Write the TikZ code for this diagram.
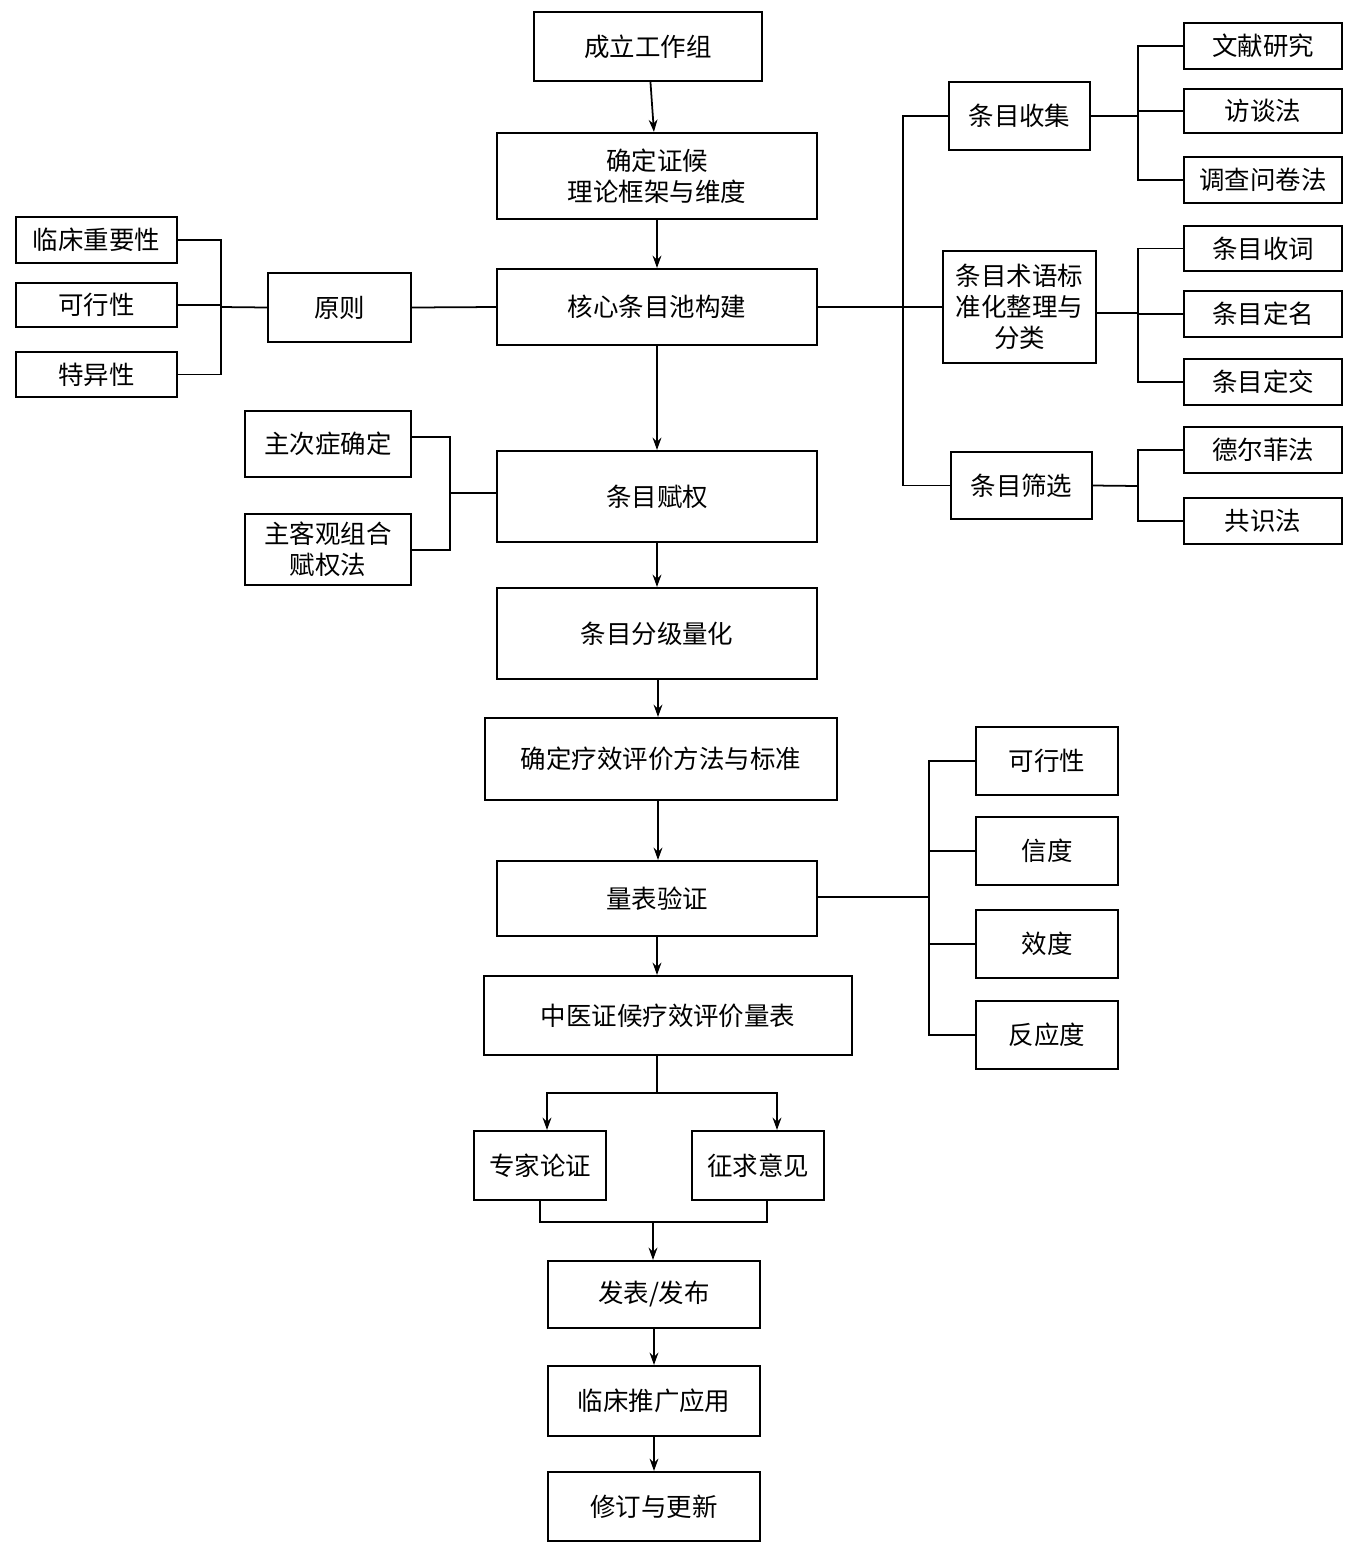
\documentclass[tikz,border=0pt]{standalone}
\usepackage{fontspec}
\setmainfont{Noto Sans CJK SC}
\usetikzlibrary{arrows.meta}
\newcommand\B[6]{\node[box,minimum width={(#4-#2)*0.02cm},minimum height={(#5-#3)*0.02cm}] (#1) at ({(#2+#4)/2},{(#3+#5)/2}) {#6};}
\begin{document}
\begin{tikzpicture}[x=0.02cm,y=-0.02cm,
 box/.style={draw,line width=1.2pt,inner sep=0pt,align=center,font=\fontsize{14.5}{17.5}\selectfont},
 ln/.style={line width=1pt},
 ar/.style={line width=1pt,-{Stealth[length=7pt,width=5pt]}}]
\useasboundingbox (0,0) rectangle (1358,1553);
\B{a}{534}{12}{762}{81}{成立工作组}
\B{b}{497}{133}{817}{219}{确定证候\\理论框架与维度}
\B{c}{497}{269}{817}{345}{核心条目池构建}
\B{yz}{268}{273}{411}{342}{原则}
\B{y1}{16}{217}{177}{263}{临床重要性}
\B{y2}{16}{283}{177}{327}{可行性}
\B{y3}{16}{352}{177}{397}{特异性}
\B{d}{497}{451}{817}{542}{条目赋权}
\B{d1}{245}{411}{411}{477}{主次症确定}
\B{d2}{245}{514}{411}{585}{主客观组合\\赋权法}
\B{e}{497}{588}{817}{679}{条目分级量化}
\B{f}{485}{718}{837}{800}{确定疗效评价方法与标准}
\B{g}{497}{861}{817}{936}{量表验证}
\B{h}{484}{976}{852}{1055}{中医证候疗效评价量表}
\B{i1}{474}{1131}{606}{1200}{专家论证}
\B{i2}{692}{1131}{824}{1200}{征求意见}
\B{j}{548}{1261}{760}{1328}{发表/发布}
\B{k}{548}{1366}{760}{1436}{临床推广应用}
\B{l}{548}{1472}{760}{1541}{修订与更新}
\B{r1}{949}{82}{1090}{150}{条目收集}
\B{r2}{943}{251}{1096}{363}{条目术语标\\准化整理与\\分类}
\B{r3}{951}{452}{1092}{519}{条目筛选}
\B{s1}{1184}{23}{1342}{69}{文献研究}
\B{s2}{1184}{89}{1342}{133}{访谈法}
\B{s3}{1184}{157}{1342}{203}{调查问卷法}
\B{s4}{1184}{226}{1342}{271}{条目收词}
\B{s5}{1184}{291}{1342}{337}{条目定名}
\B{s6}{1184}{359}{1342}{405}{条目定交}
\B{s7}{1184}{427}{1342}{473}{德尔菲法}
\B{s8}{1184}{498}{1342}{544}{共识法}
\B{v1}{976}{727}{1118}{795}{可行性}
\B{v2}{976}{817}{1118}{885}{信度}
\B{v3}{976}{910}{1118}{978}{效度}
\B{v4}{976}{1001}{1118}{1069}{反应度}
% main arrows
\draw[ar] (a) -- (b);
\draw[ar] (b) -- (c);
\draw[ar] (c) -- (d);
\draw[ar] (d) -- (e);
\draw[ar] (e.south -| 658,0) -- (f.north -| 658,0);
\draw[ar] (f.south -| 658,0) -- (g.north -| 658,0);
\draw[ar] (g.south -| 657,0) -- (h.north -| 657,0);
\coordinate (hs) at (657,1093);
\draw[ln] (h.south -| hs) -- (hs);
\draw[ar] (hs) -| (i1.north -| 547,0);
\draw[ar] (hs) -| (i2.north -| 777,0);
\coordinate (jm) at (653,1222);
\draw[ln] (i1.south -| 540,0) |- (jm);
\draw[ln] (i2.south -| 767,0) |- (jm);
\draw[ar] (jm) -- (j.north -| jm);
\draw[ar] (j) -- (k);
\draw[ar] (k) -- (l);
% left
\coordinate (yb) at (221,307);
\draw[ln] (y1.east) -| (yb); \draw[ln] (y3.east) -| (yb); \draw[ln] (y2.east) -- (y2.east -| yb);
\draw[ln] (yb) -- (yz.west);
\draw[ln] (yz.east) -- (c.west);
\coordinate (db) at (450,493);
\draw[ln] (d1.east |- 0,437) -| (db); \draw[ln] (d2.east |- 0,550) -| (db);
\draw[ln] (db) -- (d.west |- db);
% right
\coordinate (cb) at (903,307);
\draw[ln] (c.east) -- (r2.west);
\draw[ln] (r1.west) -| (cb); \draw[ln] (r3.west) -| (cb);
\coordinate (t1) at (1138,116);
\draw[ln] (r1.east) -- (t1);
\draw[ln] (s1.west) -| (t1); \draw[ln] (s3.west) -| (t1); \draw[ln] (s2.west) -- (s2.west -| t1);
\coordinate (t2) at (1138,313);
\draw[ln] (r2.east |- t2) -- (t2);
\draw[ln] (s4.west) -| (t2); \draw[ln] (s6.west) -| (t2); \draw[ln] (s5.west) -- (s5.west -| t2);
\coordinate (t3) at (1138,486);
\draw[ln] (r3.east) -- (t3);
\draw[ln] (s7.west) -| (t3); \draw[ln] (s8.west) -| (t3);
\coordinate (gb) at (929,897);
\draw[ln] (g.east |- gb) -- (gb);
\draw[ln] (v1.west) -| (gb); \draw[ln] (v4.west) -| (gb);
\draw[ln] (v2.west) -- (v2.west -| gb); \draw[ln] (v3.west) -- (v3.west -| gb);
\end{tikzpicture}
\end{document}
